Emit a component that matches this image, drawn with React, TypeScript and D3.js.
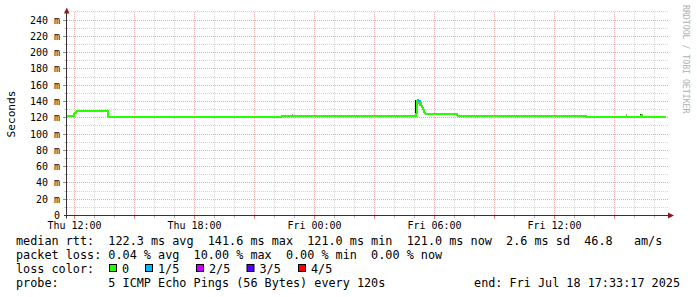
import React from "react";
import * as d3 from "d3";

// ---- data ----
const rttTimes = [
  "2025-07-17T11:39", "2025-07-17T12:00", "2025-07-17T12:06", "2025-07-17T13:42",
  "2025-07-17T22:21", "2025-07-18T05:06", "2025-07-18T05:09", "2025-07-18T05:12",
  "2025-07-18T05:15", "2025-07-18T05:18", "2025-07-18T05:21", "2025-07-18T05:24",
  "2025-07-18T05:27", "2025-07-18T05:30", "2025-07-18T05:33", "2025-07-18T07:09",
  "2025-07-18T13:36", "2025-07-18T16:21", "2025-07-18T16:24", "2025-07-18T17:36",
];
const rttValues = [
  122.3, 125.5, 128.5, 121.2, 122.3, 126.0, 141.6, 141.0, 140.0, 138.0,
  135.0, 132.0, 129.0, 126.0, 124.8, 122.0, 121.0, 123.5, 121.0, 121.0,
];
const lossCount = [0, 0, 0, 0, 0, 0, 1, 1, 1, 0, 0, 0, 0, 0, 0, 0, 0, 0, 0, 0];

const smokeTimes = ["2025-07-17T12:00", "2025-07-17T13:39", "2025-07-17T22:54", "2025-07-18T05:03", "2025-07-18T05:12", "2025-07-18T05:15", "2025-07-18T07:06", "2025-07-18T15:36", "2025-07-18T16:18"];
const smokeLo = [122.3, 121.2, 123.0, 122.3, 137.0, 135.0, 122.0, 122.5, 121.0];
const smokeHi = [126.0, 125.0, 124.5, 141.6, 141.0, 139.0, 124.8, 124.5, 124.5];
const smokeShade = ["#222", "#222", "#999", "#111", "#999", "#999", "#222", "#999", "#111"];

const yMinorTicks = d3.range(0, 251, 10);
const yMajorTicks = d3.range(0, 241, 20);

const lossLabels = ["0", "1/5", "2/5", "3/5", "4/5"];
const lossColors = ["#26ff00", "#00b8ff", "#c800ff", "#5a00ff", "#ff0000"];

const rttRow = "median rtt:  122.3 ms avg  141.6 ms max  121.0 ms min  121.0 ms now  2.6 ms sd  46.8   am/s";
const lossRow = "packet loss: 0.04 % avg  10.00 % max  0.00 % min  0.00 % now";
const probeRow = "probe:       5 ICMP Echo Pings (56 Bytes) every 120s";
const endText = "end: Fri Jul 18 17:33:17 2025";

// ---- layout ----
const W = 697, H = 297;
const X0 = 67, X1 = 667;
const Y0 = 215.5, YTOP = 11.9;
const mono = "'DejaVu Sans Mono', monospace";
const nb = (s: string) => s.replace(/ /g, "\u00a0");

export default function App() {
  const parse = (s: string) => new Date(s + ":00");
  const x = d3.scaleTime()
    .domain([parse("2025-07-17T11:39"), parse("2025-07-18T17:39")])
    .range([X0, X1]);
  const y = d3.scaleLinear().domain([0, 250]).range([Y0, YTOP]);
  const [d0, d1] = x.domain();
  const hours = d3.timeHour.every(1)!.range(d0, d1);
  const px = (d: Date) => Math.round(x(d)) + 0.5;
  const py = (v: number) => Math.floor(y(v)) + 0.5;

  const pts = rttTimes.map((t, i) => ({ t: parse(t), v: rttValues[i], l: lossCount[i] }));
  const stepLine = d3.line<{ t: Date; v: number }>()
    .x((d) => Math.round(x(d.t)))
    .y((d) => Math.round(y(d.v)))
    .curve(d3.curveStepAfter);

  const rowY = [245, 259, 273, 287];
  const boxX = [109, 145, 196, 246.5, 298];

  return (
    <svg width={W} height={H} style={{ position: "absolute", left: 0, top: 0, background: "#fff" }}>
      <rect width={W} height={H} fill="#fff" />
      {/* minor grid */}
      {yMinorTicks.filter((v) => v % 20 !== 0).map((v) => (
        <g key={"ym" + v}>
          <line x1={X0} x2={668} y1={py(v)} y2={py(v)} stroke="#d4d4d4" strokeDasharray="1,1" />
          <line x1={64.5} x2={67} y1={py(v)} y2={py(v)} stroke="#bbb" />
        </g>
      ))}
      {hours.filter((h) => h.getHours() % 3 !== 0).map((h) => (
        <g key={"xm" + h.getTime()}>
          <line x1={px(h)} x2={px(h)} y1={YTOP} y2={Y0} stroke="#d4d4d4" strokeDasharray="1,1" />
          <line x1={px(h)} x2={px(h)} y1={Y0} y2={Y0 + 2.5} stroke="#bbb" />
        </g>
      ))}
      {/* major grid */}
      {yMajorTicks.filter((v) => v > 0).map((v) => (
        <g key={"yM" + v}>
          <line x1={X0} x2={668} y1={py(v)} y2={py(v)} stroke="#eaa8a8" strokeDasharray="1,1" />
          <line x1={63} x2={67} y1={py(v)} y2={py(v)} stroke="#c08080" />
        </g>
      ))}
      {hours.filter((h) => h.getHours() % 3 === 0).map((h) => (
        <g key={"xM" + h.getTime()}>
          <line x1={px(h)} x2={px(h)} y1={YTOP} y2={Y0} stroke="#eaa8a8" strokeDasharray="1,1" />
          <line x1={px(h)} x2={px(h)} y1={Y0} y2={Y0 + 3.5} stroke="#e08080" />
        </g>
      ))}
      {/* y labels */}
      {yMajorTicks.map((v) => (
        <text key={"yl" + v} x={60} y={py(v) + 3.5} textAnchor="end" fontFamily={mono} fontSize={10} fill="#000">
          {v === 0 ? "0" : nb(`${v} m`)}
        </text>
      ))}
      {/* x labels */}
      {hours.filter((h) => h.getHours() % 6 === 0).map((h) => (
        <text key={"xl" + h.getTime()} x={px(h)} y={228.5} textAnchor="middle" fontFamily={mono} fontSize={10} fill="#000">
          {nb(d3.timeFormat("%a %H:%M")(h))}
        </text>
      ))}
      {/* smoke */}
      {smokeTimes.map((t, i) => (
        <rect key={"s" + i} x={Math.round(x(parse(t)))} width={1}
          y={Math.round(y(smokeHi[i]))} height={Math.max(1, Math.round(y(smokeLo[i])) - Math.round(y(smokeHi[i])))}
          fill={smokeShade[i]} />
      ))}
      {/* median line segments coloured by loss */}
      {pts.slice(0, -1).map((p, i) => (
        <path key={"l" + i} d={stepLine([p, pts[i + 1]]) || ""} fill="none"
          stroke={lossColors[p.l]} strokeWidth={2} shapeRendering="crispEdges" />
      ))}
      {/* axes */}
      <line x1={64} x2={668} y1={Y0} y2={Y0} stroke="#333" />
      <line x1={66.5} x2={66.5} y1={Y0 + 3} y2={12} stroke="#333" />
      <path d="M64,13.5 L69.5,13.5 L66.8,7.5 Z" fill="#8b1a1a" />
      <path d="M668,212.5 L668,218.5 L674,215.5 Z" fill="#8b1a1a" />
      {/* axis titles */}
      <text transform="translate(15,114) rotate(-90)" textAnchor="middle" fontFamily={mono} fontSize={11.2} fill="#000">Seconds</text>
      <text transform="translate(683,5) rotate(90)" fontFamily={mono} fontSize={8.2} fill="#b0b0b0">{nb("RRDTOOL / TOBI OETIKER")}</text>
      {/* legend */}
      <g fontFamily={mono} fontSize={11.8} fill="#000">
        <text x={16} y={rowY[0]}>{nb(rttRow)}</text>
        <text x={16} y={rowY[1]}>{nb(lossRow)}</text>
        <text x={16} y={rowY[2]}>{nb("loss color:")}</text>
        {lossLabels.map((s, i) => (
          <g key={"c" + i}>
            <rect x={boxX[i] + 0.5} y={264.5} width={7} height={7} fill={lossColors[i]} stroke="#000" />
            <text x={boxX[i] + 13} y={rowY[2]}>{s}</text>
          </g>
        ))}
        <text x={16} y={rowY[3]}>{nb(probeRow)}</text>
        <text x={680} y={rowY[3]} textAnchor="end">{nb(endText)}</text>
      </g>
    </svg>
  );
}
